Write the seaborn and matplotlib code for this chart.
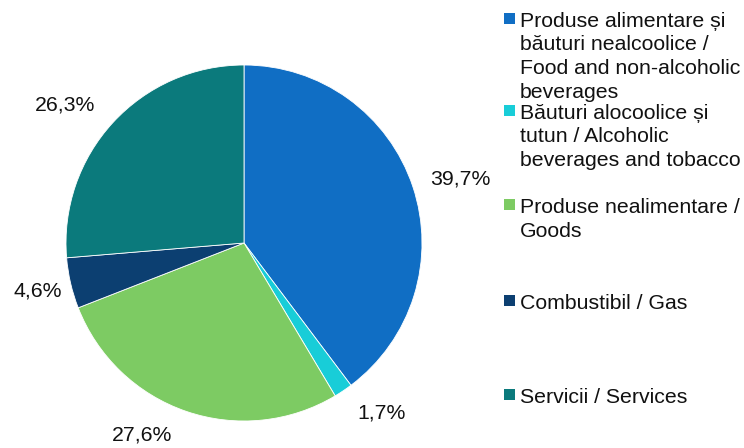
import numpy as np
import matplotlib
matplotlib.use("Agg")
import matplotlib.pyplot as plt
from matplotlib.patches import Rectangle
import seaborn as sns

# data
categories = ["Produse alimentare și\nbăuturi nealcoolice /\nFood and non-alcoholic\nbeverages",
              "Băuturi alocoolice și\ntutun / Alcoholic\nbeverages and tobacco",
              "Produse nealimentare /\nGoods",
              "Combustibil / Gas",
              "Servicii / Services"]
shares = [39.7, 1.7, 27.6, 4.6, 26.3]
pct_labels = ["39,7%", "1,7%", "27,6%", "4,6%", "26,3%"]
colors = ["#106EC4", "#18CDD8", "#7DCB63", "#0C3F71", "#0B7A7C"]

sns.set_theme(style="white")
plt.rcParams['font.family'] = ['Liberation Sans', 'DejaVu Sans']
fs = 15.3

W, H = 744, 448
fig = plt.figure(figsize=(W / 100, H / 100), dpi=100)
cx, cy, r = 244, H - 243, 178
ax = fig.add_axes([(cx - r) / W, (cy - r) / H, 2 * r / W, 2 * r / H])

wedges, _ = ax.pie(shares, colors=colors, startangle=90, counterclock=False,
                   radius=1, wedgeprops=dict(linewidth=0.6, edgecolor="white"))
ax.set_xlim(-1, 1)
ax.set_ylim(-1, 1)
ax.set_aspect("equal")
ax.axis("off")

# percentage labels around the pie (Excel "best fit" style nudges)
ang_nudge = [-2, 5, -9, 0, 5]
dist = [1.27, 1.23, 1.22, 1.19, 1.27]
for w, lab, dn, d in zip(wedges, pct_labels, ang_nudge, dist):
    a = np.deg2rad((w.theta1 + w.theta2) / 2 + dn)
    ax.text(d * np.cos(a), d * np.sin(a), lab, ha="center", va="center",
            fontsize=fs, color="#111111", clip_on=False)

# legend drawn by hand so the swatch sits on the first text line
base_y = [27, 119, 213, 309, 403]
line_h = 23.5
for lab, col, by in zip(categories, colors, base_y):
    fig.patches.append(Rectangle((504 / W, (H - by + 3) / H), 11 / W, 11 / H,
                                 transform=fig.transFigure, facecolor=col,
                                 edgecolor="none"))
    for i, line in enumerate(lab.split("\n")):
        fig.text(520 / W, (H - by - i * line_h) / H, line, ha="left",
                 va="baseline", fontsize=fs, color="#111111")

fig.savefig("out.png", dpi=100)
